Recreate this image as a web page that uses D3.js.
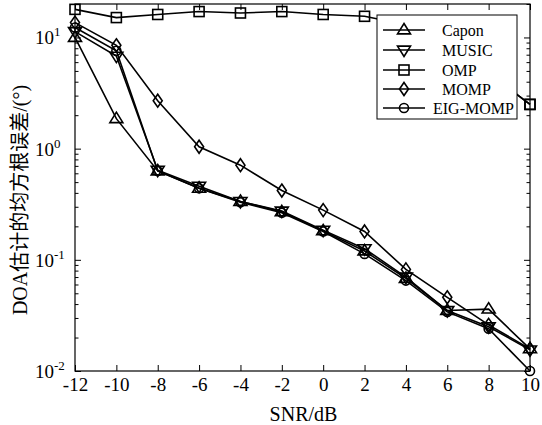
<!DOCTYPE html>
<html>
<head>
<meta charset="utf-8">
<script src="https://cdn.jsdelivr.net/npm/d3@7"></script>
<style>
  body { margin: 0; background: #fff; }
  svg { display: block; }
  text { font-family: "Liberation Serif", "Noto Sans CJK SC", serif; fill: #000; }
</style>
</head>
<body>
<svg id="chart" width="542" height="425"></svg>
<script>
// data
var snr = [-12, -10, -8, -6, -4, -2, 0, 2, 4, 6, 8, 10];
var capon   = [10.0, 1.86, 0.63, 0.44, 0.335, 0.27, 0.182, 0.12, 0.068, 0.035, 0.036, 0.0158];
var music   = [11.3, 6.8, 0.64, 0.46, 0.335, 0.275, 0.185, 0.126, 0.070, 0.035, 0.025, 0.0155];
var omp     = [17.9, 15.1, 16.1, 17.1, 16.6, 17.1, 16.1, 15.5, 13.0, 9.0, 4.8, 2.5];
var momp    = [13.6, 8.5, 2.7, 1.04, 0.71, 0.42, 0.28, 0.18, 0.082, 0.046, 0.026, 0.0158];
var eigmomp = [12.3, 7.6, 0.63, 0.44, 0.33, 0.265, 0.18, 0.113, 0.065, 0.034, 0.024, 0.0100];

var seriesNames = ["Capon", "MUSIC", "OMP", "MOMP", "EIG-MOMP"];
var seriesData = [capon, music, omp, momp, eigmomp];
var seriesMarkers = ["triUp", "triDown", "square", "diamond", "circle"];

var xTicks = [-12, -10, -8, -6, -4, -2, 0, 2, 4, 6, 8, 10];
var yMajor = [0.01, 0.1, 1, 10];
var yExp = ["-2", "-1", "0", "1"];

var svg = d3.select("#chart");
var pLeft = 75, pRight = 530, pTop = 4, pBottom = 371;
var lw = 1.6;

var x = d3.scaleLinear().domain([-12, 10]).range([pLeft, pRight]);
var y = d3.scaleLog().domain([0.01, 20]).range([pBottom, pTop]);

// minor log ticks
var yMinor = [];
for (var d = 0; d < yMajor.length; d++) {
    for (var m = 2; m <= 9; m++) {
        var v = yMajor[d] * m;
        if (v <= 20) yMinor.push(v);
    }
}

// frame
svg.append("rect")
    .attr("x", pLeft).attr("y", pTop)
    .attr("width", pRight - pLeft).attr("height", pBottom - pTop)
    .attr("fill", "none").attr("stroke", "#000").attr("stroke-width", 1.2);

// x axes (inward ticks)
var xAxis = svg.append("g")
    .attr("transform", "translate(0," + pBottom + ")")
    .call(d3.axisBottom(x).tickValues(xTicks).tickSize(-6).tickPadding(6)
        .tickFormat(function(d){ return String(d); }));
xAxis.select(".domain").remove();
xAxis.selectAll("text")
    .style("font-size", "19px")
    .style("font-family", "Liberation Serif")
    .attr("fill", "#000")
    .attr("dy", "0.75em");

var xTop = svg.append("g")
    .attr("transform", "translate(0," + pTop + ")")
    .call(d3.axisTop(x).tickValues(xTicks).tickSize(-6).tickFormat(""));
xTop.select(".domain").remove();

// y axes
var yAxis = svg.append("g")
    .attr("transform", "translate(" + pLeft + ",0)")
    .call(d3.axisLeft(y).tickValues(yMajor).tickSize(-6).tickFormat(""));
yAxis.select(".domain").remove();
var yAxisMinor = svg.append("g")
    .attr("transform", "translate(" + pLeft + ",0)")
    .call(d3.axisLeft(y).tickValues(yMinor).tickSize(-3.5).tickFormat(""));
yAxisMinor.select(".domain").remove();

var yRight = svg.append("g")
    .attr("transform", "translate(" + pRight + ",0)")
    .call(d3.axisRight(y).tickValues(yMajor).tickSize(-6).tickFormat(""));
yRight.select(".domain").remove();
var yRightMinor = svg.append("g")
    .attr("transform", "translate(" + pRight + ",0)")
    .call(d3.axisRight(y).tickValues(yMinor).tickSize(-3.5).tickFormat(""));
yRightMinor.select(".domain").remove();

svg.selectAll(".tick line").attr("stroke", "#000");

// y tick labels 10^n
var yLab = svg.append("g").selectAll("text")
    .data(yMajor)
    .enter()
    .append("text")
    .attr("x", 35)
    .attr("y", function(d){ return y(d) + 7; })
    .style("font-size", "19px");
yLab.append("tspan").text("10");
yLab.append("tspan")
    .attr("dy", -8)
    .style("font-size", "13px")
    .text(function(d, i){ return yExp[i]; });

// axis titles
svg.append("text")
    .attr("x", (pLeft + pRight) / 2 + 1)
    .attr("y", 421)
    .attr("text-anchor", "middle")
    .style("font-size", "20px")
    .text("SNR/dB");

svg.append("text")
    .attr("transform", "translate(27,200) rotate(-90)")
    .attr("text-anchor", "middle")
    .style("font-size", "20px")
    .text("DOA估计的均方根误差/(°)");

// markers
function drawMarker(g, type, cx, cy) {
    var s;
    if (type === "square") {
        g.append("rect").attr("x", cx - 5).attr("y", cy - 5).attr("width", 10).attr("height", 10);
    } else if (type === "circle") {
        g.append("circle").attr("cx", cx).attr("cy", cy).attr("r", 4.5);
    } else if (type === "triUp") {
        s = 6.5;
        g.append("path").attr("d", "M" + cx + "," + (cy - s) + "L" + (cx + s) + "," + (cy + s * 0.6) + "L" + (cx - s) + "," + (cy + s * 0.6) + "Z");
    } else if (type === "triDown") {
        s = 6.5;
        g.append("path").attr("d", "M" + cx + "," + (cy + s) + "L" + (cx + s) + "," + (cy - s * 0.6) + "L" + (cx - s) + "," + (cy - s * 0.6) + "Z");
    } else if (type === "diamond") {
        g.append("path").attr("d", "M" + cx + "," + (cy - 6.5) + "L" + (cx + 4.5) + "," + cy + "L" + cx + "," + (cy + 6.5) + "L" + (cx - 4.5) + "," + cy + "Z");
    }
}

var line = d3.line()
    .x(function(d, i){ return x(snr[i]); })
    .y(function(d){ return y(d); });

var plot = svg.append("g");
for (var k = 0; k < seriesData.length; k++) {
    plot.append("path")
        .datum(seriesData[k])
        .attr("d", line)
        .attr("fill", "none")
        .attr("stroke", "#000")
        .attr("stroke-width", lw);
    var mg = plot.append("g").attr("fill", "none").attr("stroke", "#000").attr("stroke-width", lw);
    for (var i = 0; i < snr.length; i++) {
        drawMarker(mg, seriesMarkers[k], x(snr[i]), y(seriesData[k][i]));
    }
}

// legend
var lg = svg.append("g");
lg.append("rect")
    .attr("x", 377).attr("y", 15)
    .attr("width", 140).attr("height", 104)
    .attr("fill", "#fff").attr("stroke", "#000").attr("stroke-width", 1);

var legendY = [30, 50, 70, 89, 108];
var legendTextX = [442, 442, 442, 442, 433];
for (var k = 0; k < seriesNames.length; k++) {
    lg.append("line")
        .attr("x1", 383).attr("x2", 425)
        .attr("y1", legendY[k]).attr("y2", legendY[k])
        .attr("stroke", "#000").attr("stroke-width", lw);
    var lm = lg.append("g").attr("fill", "none").attr("stroke", "#000").attr("stroke-width", lw);
    drawMarker(lm, seriesMarkers[k], 404, legendY[k]);
    lg.append("text")
        .attr("x", legendTextX[k])
        .attr("y", legendY[k] + 6)
        .style("font-size", "16px")
        .text(seriesNames[k]);
}

// OMP tail that pokes out of the legend box, plus its last marker
svg.append("clipPath").attr("id", "legclip")
    .append("rect").attr("x", 517).attr("y", 0).attr("width", 25).attr("height", 425);
var endG = svg.append("g").attr("fill", "none").attr("stroke", "#000").attr("stroke-width", lw);
endG.append("path")
    .datum(omp)
    .attr("d", line)
    .attr("clip-path", "url(#legclip)");
drawMarker(endG, "square", x(10), y(omp[omp.length - 1]));
</script>
</body>
</html>
